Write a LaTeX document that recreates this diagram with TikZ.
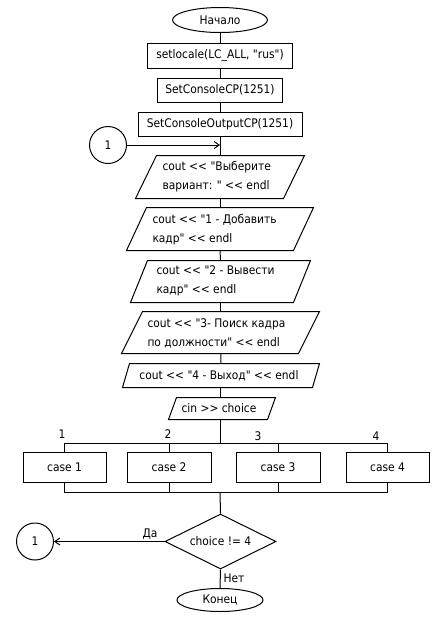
\documentclass[tikz,border=0pt]{standalone}
\usepackage{fontspec}
\setmainfont{DejaVu Sans Condensed}[Ligatures=TeXOff]
\usetikzlibrary{shapes.geometric,arrows.meta}

% parallelogram (data block) drawn over a named frame node; #2 = slant in px
\newcommand{\iobox}[2]{%
  \draw ([xshift=#2*0.75pt]#1.north west) -- (#1.north east)
        -- ([xshift=-#2*0.75pt]#1.south east) -- (#1.south west) -- cycle;}

\begin{document}
\begin{tikzpicture}[x=0.75pt,y=-0.75pt,line width=0.75pt,
  font=\fontsize{8.9}{14.25}\selectfont,
  terminal/.style={draw,ellipse,inner sep=0pt},
  procbox/.style={draw,rectangle,inner sep=0pt},
  ioframe/.style={rectangle,inner sep=0pt},
  iotext/.style={inner sep=0pt,align=left,anchor=west},
  connector/.style={draw,circle,inner sep=0pt,minimum size=27.75pt},
  decision/.style={draw,diamond,inner sep=0pt,aspect=2},
  lbl/.style={inner sep=0pt},
  flow/.style={-{Straight Barb[length=3.75pt,width=5.25pt]}}]

\useasboundingbox (0,0) rectangle (437,619);

% --- initialisation
\node[terminal,minimum width=71.25pt,minimum height=18.75pt] (start) at (220,20) {Начало};
\node[procbox,minimum width=108.75pt,minimum height=18.75pt] (loc) at (220,55.5) {setlocale(LC\_ALL, "rus")};
\node[procbox,minimum width=93.75pt,minimum height=18pt] (cp) at (220,90) {SetConsoleCP(1251)};
\node[procbox,minimum width=123pt,minimum height=18pt] (ocp) at (220,124) {SetConsoleOutputCP(1251)};
\node[connector] (in1) at (108,145) {1};
\coordinate (join) at (220,145);

% --- menu output
\node[ioframe,minimum width=126pt,minimum height=31.5pt] (m0) at (220,177) {};
\iobox{m0}{21}
\node[iotext] (m0t) at (162,176.5) {cout << "Выберите\\вариант: " << endl};

\node[ioframe,minimum width=139.5pt,minimum height=31.5pt] (m1) at (220,229) {};
\iobox{m1}{20}
\node[iotext] (m1t) at (152,229.5) {cout << "1 - Добавить\\кадр" << endl};

\node[ioframe,minimum width=134.25pt,minimum height=30.75pt] (m2) at (220.5,281.5) {};
\iobox{m2}{17}
\node[iotext] (m2t) at (156,281) {cout << "2 - Вывести\\кадр" << endl};

\node[ioframe,minimum width=147.75pt,minimum height=30.75pt] (m3) at (220.5,332.5) {};
\iobox{m3}{21}
\node[iotext] (m3t) at (147,333) {cout << "3- Поиск кадра\\по должности" << endl};

\node[ioframe,minimum width=147pt,minimum height=17.25pt] (m4) at (221,375.5) {};
\iobox{m4}{7}
\node[lbl] (m4t) at (219,375.5) {cout << "4 - Выход" << endl};

\node[ioframe,minimum width=79.5pt,minimum height=15.75pt] (rd) at (222,408.5) {};
\iobox{rd}{8}
\node[lbl] (rdt) at (219,408.5) {cin >> choice};

% --- switch
\node[procbox,minimum width=62.25pt,minimum height=22.5pt] (c1) at (64.5,467) {case 1};
\node[procbox,minimum width=63pt,minimum height=22.5pt] (c2) at (169,467) {case 2};
\node[procbox,minimum width=63pt,minimum height=22.5pt] (c3) at (278,467) {case 3};
\node[procbox,minimum width=62.25pt,minimum height=22.5pt] (c4) at (387.5,467) {case 4};
\coordinate (top) at (220,443);
\coordinate (bot) at (220,492);
\node[lbl] (l1) at (62,434) {1};
\node[lbl] (l2) at (168,434) {2};
\node[lbl] (l3) at (258,436) {3};
\node[lbl] (l4) at (376,436) {4};

% --- loop condition
\node[decision,minimum width=83.25pt,minimum height=41.25pt] (cond) at (220.5,541.5) {choice != 4};
\node[connector] (out1) at (35,541.5) {1};
\node[terminal,minimum width=64.5pt,minimum height=17.25pt] (stop) at (220,600) {Конец};

% --- connections
\draw (start) -- (loc);
\draw (loc) -- (cp);
\draw (cp) -- (ocp);
\draw (ocp) -- (m0);
\draw[flow] (in1) -- (join);
\draw (m0) -- (m1);
\draw (m1) -- (m2);
\draw (m2) -- (m3);
\draw (m3) -- (m4);
\draw (220,387) -- (220,398);
\draw (220,419) -- (top);
\draw (c1.north |- top) -- (c4.north |- top);
\draw (c1.north |- top) -- (c1.north);
\draw (c2.north |- top) -- (c2.north);
\draw (c3.north |- top) -- (c3.north);
\draw (c4.north |- top) -- (c4.north);
\draw (c1.south) -- (c1.south |- bot) -- (c4.south |- bot) -- (c4.south);
\draw (c2.south) -- (c2.south |- bot);
\draw (c3.south) -- (c3.south |- bot);
\draw (bot) -- (cond.north);
\draw[flow] (cond.west) -- (out1.east);
\node[lbl] (yes) at (150,534) {Да};
\draw (cond.south) -- (stop.north);
\node[lbl] (no) at (234,578) {Нет};
\end{tikzpicture}
\end{document}
